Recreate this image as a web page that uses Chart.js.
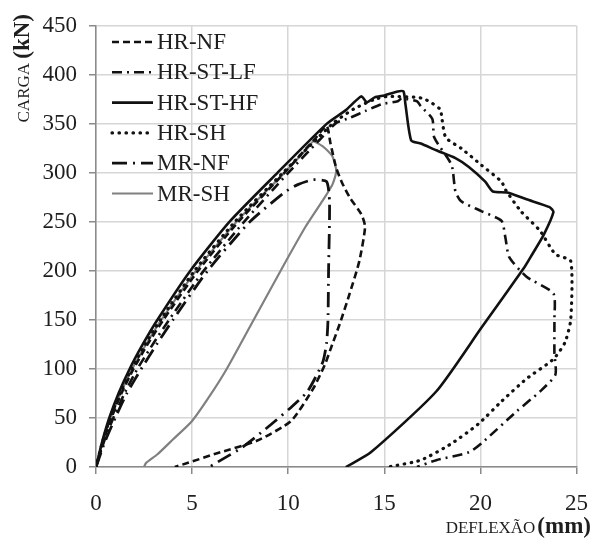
<!DOCTYPE html>
<html>
<head>
<meta charset="utf-8">
<script src="https://cdn.jsdelivr.net/npm/chart.js@4/dist/chart.umd.min.js"></script>
<style>
  html, body { margin: 0; padding: 0; background: #fff; }
  canvas { display: block; }
</style>
</head>
<body>
<canvas id="c" width="604" height="541"></canvas>
<script>
// Load–deflection curves (deflection in mm, load in kN)
const seriesNames = ['HR-NF', 'HR-ST-LF', 'HR-ST-HF', 'HR-SH', 'MR-NF', 'MR-SH'];

const hrNfX = [0, 0.36, 0.8, 1.32, 1.95, 2.68, 3.5, 5.3, 7.4, 9.8, 11.4, 12.0, 12.2, 12.5, 12.8, 13.2, 13.8, 14.0, 13.7, 13.2, 12.7, 12.2, 11.9, 11.3, 10.15, 8.4, 6.3, 4.75, 4.1];
const hrNfY = [0, 25, 50, 75, 100, 125, 150, 200, 250, 300, 335, 348, 330, 305, 290, 275, 258, 245, 210, 177, 147, 120, 104, 80, 47, 27, 14, 4, 0];

const hrStLfX = [0, 0.4, 0.9, 1.48, 2.15, 2.95, 3.8, 5.6, 7.7, 10.0, 11.6, 12.5, 13.2, 14.0, 14.85, 15.7, 15.9, 16.7, 16.9, 17.5, 17.6, 18.5, 18.7, 19.0, 20.05, 21.1, 21.3, 21.5, 22.4, 23.8, 23.85, 23.85, 23.9, 23.1, 21.9, 20.05, 19.4, 17.7, 16.7];
const hrStLfY = [0, 25, 50, 75, 100, 125, 150, 200, 250, 300, 333, 351, 356, 363, 370, 373, 376, 373, 368, 355, 336, 308, 281, 271, 261, 251, 234, 214, 194, 177, 150, 117, 94, 77, 57, 24, 15, 7, 0];

const hrStHfX = [0, 0.31, 0.69, 1.17, 1.75, 2.43, 3.19, 4.9, 6.94, 9.44, 12.0, 13.0, 13.8, 14.1, 14.5, 15.0, 15.7, 16.0, 16.1, 16.4, 16.9, 17.7, 18.7, 19.4, 20.25, 20.65, 21.4, 22.4, 23.6, 23.8, 23.3, 22.7, 22.3, 20.05, 17.7, 14.3, 13.0];
const hrStHfY = [0, 25, 50, 75, 100, 125, 150, 200, 250, 300, 350, 364, 378, 372, 377, 379, 383, 383, 370, 333, 330, 323, 315, 306, 291, 281, 280, 273, 265, 260, 237, 217, 204, 142, 77, 15, 0];

const hrShX = [0, 0.33, 0.74, 1.24, 1.85, 2.56, 3.35, 5.12, 7.22, 9.72, 12.3, 13.4, 14.5, 15.2, 17.0, 17.9, 18.0, 18.2, 19.0, 20.05, 21.1, 21.3, 22.1, 23.1, 23.9, 24.7, 24.7, 24.4, 23.8, 22.4, 21.1, 19.9, 18.5, 16.9, 15.2];
const hrShY = [0, 25, 50, 75, 100, 125, 150, 200, 250, 300, 350, 365, 375, 378, 376, 365, 355, 336, 325, 308, 291, 283, 261, 241, 217, 210, 150, 127, 110, 90, 67, 44, 24, 7, 0];

const mrNfX = [0, 0.45, 1.0, 1.6, 2.35, 3.15, 4.0, 5.8, 8.0, 9.8, 10.5, 11.3, 12.0, 12.15, 12.1, 12.07, 12.0, 11.8, 11.0, 10.1, 8.9, 7.6, 6.5, 5.9];
const mrNfY = [0, 25, 50, 75, 100, 125, 150, 200, 250, 280, 288, 293, 291, 270, 200, 150, 127, 107, 77, 60, 40, 20, 7, 0];

const mrShX = [0, 0.34, 0.76, 1.27, 1.88, 2.6, 3.4, 5.2, 7.3, 9.8, 11.0, 11.3, 11.8, 12.3, 12.5, 12.3, 11.8, 10.9, 9.6, 8.2, 6.8, 5.9, 5.0, 4.0, 3.2, 2.6, 2.5];
const mrShY = [0, 25, 50, 75, 100, 125, 150, 200, 250, 300, 325, 332, 327, 317, 302, 288, 272, 245, 200, 150, 100, 72, 47, 28, 13, 4, 0];

const xTicks = [0, 5, 10, 15, 20, 25];
const yTicks = [0, 50, 100, 150, 200, 250, 300, 350, 400, 450];

const pairs = (xs, ys) => xs.map((x, i) => ({ x: x, y: ys[i] }));

const SERIF = '"Liberation Serif", "DejaVu Serif", serif';
const INK = '#1e1e1e';

const styles = [
  { color: '#111', width: 2.6, dash: [7, 4], cap: 'butt' },
  { color: '#111', width: 2.6, dash: [10, 5, 2, 5], cap: 'butt' },
  { color: '#111', width: 2.6, dash: [], cap: 'butt' },
  { color: '#111', width: 3.2, dash: [0.5, 6.5], cap: 'round' },
  { color: '#111', width: 2.8, dash: [15, 6, 2, 6], cap: 'butt' },
  { color: '#808080', width: 2.2, dash: [], cap: 'butt' }
];

const seriesData = [
  pairs(hrNfX, hrNfY),
  pairs(hrStLfX, hrStLfY),
  pairs(hrStHfX, hrStHfY),
  pairs(hrShX, hrShY),
  pairs(mrNfX, mrNfY),
  pairs(mrShX, mrShY)
];

const datasets = seriesNames.map((name, i) => ({
  label: name,
  data: seriesData[i],
  showLine: true,
  borderColor: styles[i].color,
  borderWidth: styles[i].width,
  borderDash: styles[i].dash,
  borderCapStyle: styles[i].cap,
  borderJoinStyle: 'round',
  pointRadius: 0,
  tension: 0.2,
  fill: false
}));

// Legend drawn inside the plot area, top-left
const insideLegend = {
  id: 'insideLegend',
  afterDraw(chart) {
    const ctx = chart.ctx;
    const x0 = 112, x1 = 153, tx = 157, y0 = 42, step = 30.3;
    chart.data.datasets.forEach((ds, i) => {
      const y = y0 + i * step;
      ctx.save();
      ctx.strokeStyle = ds.borderColor;
      ctx.lineWidth = ds.borderWidth;
      ctx.lineCap = ds.borderCapStyle;
      ctx.setLineDash(ds.borderDash);
      ctx.beginPath();
      ctx.moveTo(x0, y);
      ctx.lineTo(x1, y);
      ctx.stroke();
      ctx.restore();
      ctx.save();
      ctx.fillStyle = INK;
      ctx.font = '23px ' + SERIF;
      ctx.textBaseline = 'middle';
      ctx.textAlign = 'left';
      ctx.fillText(ds.label, tx, y + 1);
      ctx.restore();
    });
  }
};

// Axis titles: plain caps word followed by a bold unit
const axisTitles = {
  id: 'axisTitles',
  afterDraw(chart) {
    const ctx = chart.ctx;
    ctx.save();
    ctx.fillStyle = INK;
    ctx.textBaseline = 'alphabetic';
    // x title, right aligned to the plot edge
    ctx.font = 'bold 23px ' + SERIF;
    const unitX = '(mm)';
    const wUnitX = ctx.measureText(unitX).width;
    const endX = 591;
    ctx.fillText(unitX, endX - wUnitX, 533);
    ctx.font = '17px ' + SERIF;
    const wordX = 'DEFLEXÃO';
    const wWordX = ctx.measureText(wordX).width;
    ctx.fillText(wordX, endX - wUnitX - 2 - wWordX, 533);
    ctx.restore();

    // y title, rotated, ending at the top of the plot
    ctx.save();
    ctx.fillStyle = INK;
    ctx.font = '17px ' + SERIF;
    const wordY = 'CARGA ';
    const wWordY = ctx.measureText(wordY).width;
    ctx.font = 'bold 23px ' + SERIF;
    const unitY = '(kN)';
    const wUnitY = ctx.measureText(unitY).width;
    const total = wWordY + wUnitY;
    ctx.translate(29, 14 + total);
    ctx.rotate(-Math.PI / 2);
    ctx.font = '17px ' + SERIF;
    ctx.fillText(wordY, 0, 0);
    ctx.font = 'bold 23px ' + SERIF;
    ctx.fillText(unitY, wWordY, 0);
    ctx.restore();
  }
};

new Chart(document.getElementById('c'), {
  type: 'scatter',
  data: { datasets: datasets },
  options: {
    responsive: false,
    animation: false,
    devicePixelRatio: 1,
    layout: { padding: { left: 0, right: 13, top: 18, bottom: 0 } },
    plugins: {
      legend: { display: false },
      tooltip: { enabled: false }
    },
    scales: {
      x: {
        type: 'linear',
        min: xTicks[0],
        max: xTicks[xTicks.length - 1],
        afterBuildTicks: (s) => { s.ticks = xTicks.map(v => ({ value: v })); },
        afterFit: (s) => { s.height = 74; },
        ticks: {
          font: { family: SERIF, size: 23 },
          color: INK,
          padding: 16,
          maxRotation: 0
        },
        grid: { color: '#d6d6d6', lineWidth: 1.5, tickColor: '#8a8a8a', tickLength: 7 },
        border: { color: '#8a8a8a', width: 1.5 }
      },
      y: {
        type: 'linear',
        min: yTicks[0],
        max: yTicks[yTicks.length - 1],
        afterBuildTicks: (s) => { s.ticks = yTicks.map(v => ({ value: v })); },
        afterFit: (s) => { s.width = 96; },
        ticks: {
          font: { family: SERIF, size: 23 },
          color: INK,
          padding: 12
        },
        grid: { color: '#d6d6d6', lineWidth: 1.5, tickColor: '#8a8a8a', tickLength: 7 },
        border: { color: '#8a8a8a', width: 1.5 }
      }
    }
  },
  plugins: [insideLegend, axisTitles]
});
</script>
</body>
</html>
